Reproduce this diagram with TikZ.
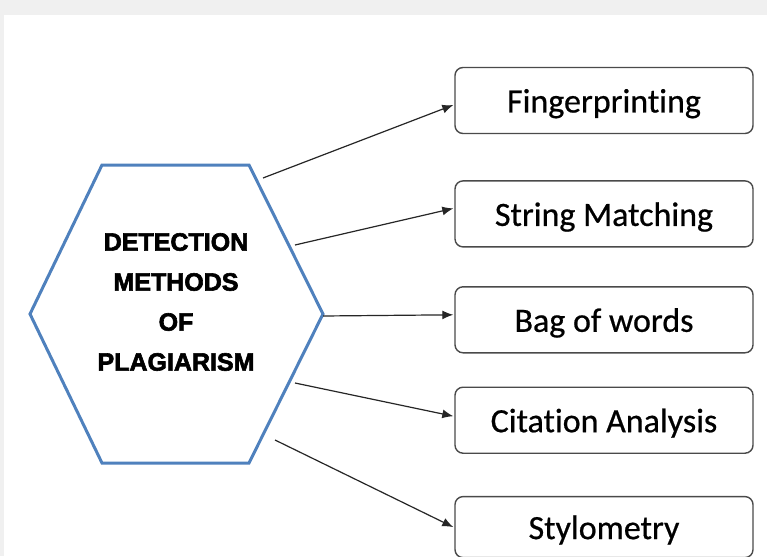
\documentclass[tikz,border=0pt]{standalone}
\usepackage{fontspec}
\setmainfont{Carlito}[Ligatures=NoCommon, FakeBold=0.6]
\newfontfamily\hexfont{Liberation Sans}[BoldFeatures={FakeBold=2.4}]
\usetikzlibrary{arrows.meta,positioning}

\definecolor{hexblue}{HTML}{4F81BD}
\definecolor{pagegray}{HTML}{F0F0F0}
\definecolor{boxgray}{HTML}{4A4A4A}

\begin{document}
\begin{tikzpicture}[
  x=1pt, y=-1pt,
  node distance=40pt,
  method/.style={
    rectangle,
    rounded corners=8pt,
    draw=boxgray,
    line width=1.4pt,
    fill=white,
    minimum width=298pt,
    minimum height=66pt,
    inner sep=0pt,
    text height=24pt,
    text depth=0pt,
    font=\fontsize{34}{38}\selectfont,
    align=center
  },
  flow/.style={->, line width=1.2pt, draw=black!85, >={Latex[length=11pt,width=9pt]}}
]

\useasboundingbox (0,0) rectangle (767,556);

% --- SFONDO --------------------------------------------------------
\fill[pagegray] (0,0) rectangle (767,556);
\fill[white] (4,15) rectangle (767,556);

% --- ESAGONO -------------------------------------------------------
\draw[hexblue, line width=3pt, line join=miter]
  (102,165) -- (249,165) -- (323,314) -- (249,463) -- (102,463) -- (30,314) -- cycle;
\node[font=\hexfont\bfseries\fontsize{25}{40}\selectfont, align=center] (core) at (176,302) {
  DETECTION\\
  METHODS\\
  OF\\
  PLAGIARISM
};

% --- PUNTI DI PARTENZA ---------------------------------------------
\coordinate (s1) at (263,178);
\coordinate (s2) at (295,245);
\coordinate (s3) at (323,316);
\coordinate (s4) at (295,383);
\coordinate (s5) at (275,440);

% --- METODI --------------------------------------------------------
\node[method] (finger) at (604,100.5) {Fingerprinting};
\node[method, below=46pt of finger] (string) {String Matching};
\node[method, below=38.5pt of string] (bag) {Bag of words};
\node[method, below=33pt of bag] (citation) {Citation Analysis};
\node[method, below=39.5pt of citation, minimum height=61pt, yshift=-2.5pt] (stylo) {Stylometry};

% --- FRECCE --------------------------------------------------------
\draw[flow] (s1) -- ([yshift=-4.5pt, xshift=-1pt]finger.west);
\draw[flow] (s2) -- ([yshift=5.5pt, xshift=-1pt]string.west);
\draw[flow] (s3) -- ([yshift=5pt, xshift=-1pt]bag.west);
\draw[flow] (s4) -- ([yshift=4pt, xshift=-1pt]citation.west);
\draw[flow] (s5) -- ([yshift=0pt, xshift=-1pt]stylo.west);

\end{tikzpicture}
\end{document}
